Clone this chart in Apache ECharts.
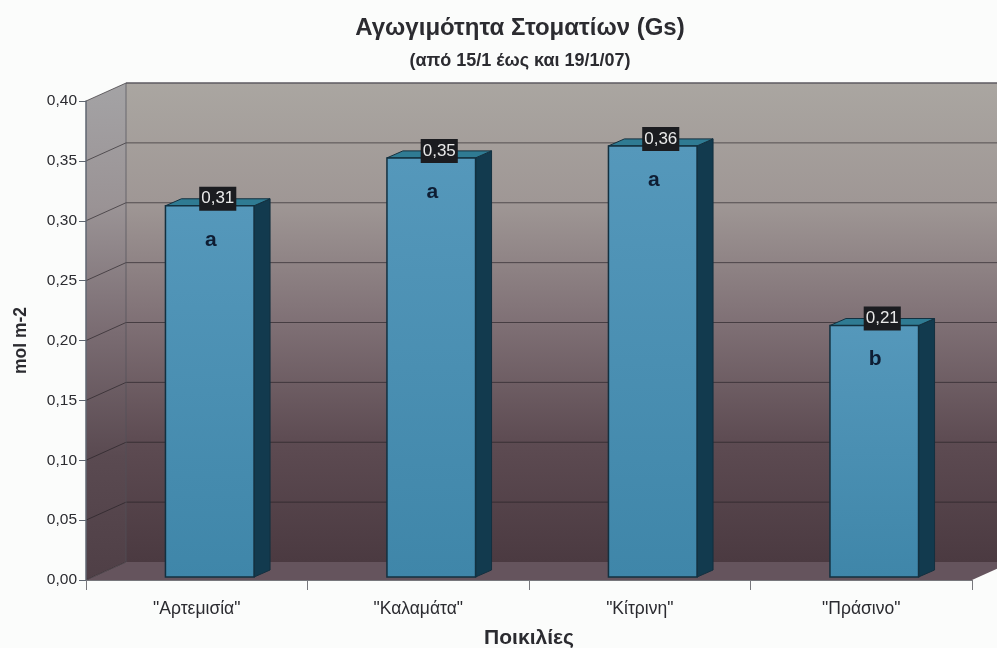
<!DOCTYPE html>
<html>
<head>
<meta charset="utf-8">
<style>html,body{margin:0;padding:0;background:#fbfcfb}#c{width:997px;height:648px}</style>
<script src="https://cdn.jsdelivr.net/npm/echarts@6/dist/echarts.min.js"></script>
</head>
<body>
<div id="c"></div>
<script>
// Stomatal conductance per variety
const categories = ['"Αρτεμισία"', '"Καλαμάτα"', '"Κίτρινη"', '"Πράσινο"'];
const conductance = [0.31, 0.35, 0.36, 0.21];
const groupLetters = ['a', 'a', 'a', 'b'];
const yTicks = [0, 0.05, 0.10, 0.15, 0.20, 0.25, 0.30, 0.35, 0.40];

// Oblique projection of the box: how far the back wall sits from the front plane
const WALL_DX = 40, WALL_DY = -18;
const BAR_DX = 13, BAR_DY = -3, BAR_DEPTH_X = 16, BAR_DEPTH_Y = -7;
const comma = v => v.toFixed(2).replace('.', ',');
const ink = '#2b2b30';

const chart = echarts.init(document.getElementById('c'), null, {renderer: 'canvas'});

function renderBox(params, api) {
  const band = api.size([1, 0])[0];
  const left = api.coord([0, 0])[0] - band / 2;
  const right = api.coord([categories.length - 1, 0])[0] + band / 2;
  const y0 = api.coord([0, 0])[1];
  const yTop = api.coord([0, yTicks[yTicks.length - 1]])[1];
  const wallFill = new echarts.graphic.LinearGradient(0, 0, 0, 1, [
    {offset: 0, color: '#aaa6a1'},
    {offset: 0.25, color: '#9f9795'},
    {offset: 0.5, color: '#7f7075'},
    {offset: 0.75, color: '#5d4b52'},
    {offset: 1, color: '#4b3a41'}
  ]);
  const sideFill = new echarts.graphic.LinearGradient(0, 0, 0, 1, [
    {offset: 0, color: '#a4a3a5'},
    {offset: 0.25, color: '#9a9395'},
    {offset: 0.5, color: '#7a6c72'},
    {offset: 0.75, color: '#5a4a51'},
    {offset: 1, color: '#4f3f46'}
  ]);
  const children = [
    {type: 'polygon', shape: {points: [[left + WALL_DX, yTop + WALL_DY], [right + WALL_DX, yTop + WALL_DY], [right + WALL_DX, y0 + WALL_DY], [left + WALL_DX, y0 + WALL_DY]]}, style: {fill: wallFill}},
    {type: 'polygon', shape: {points: [[left, yTop], [left + WALL_DX, yTop + WALL_DY], [left + WALL_DX, y0 + WALL_DY], [left, y0]]}, style: {fill: sideFill}},
    {type: 'polygon', shape: {points: [[left, y0], [left + WALL_DX, y0 + WALL_DY], [right + WALL_DX, y0 + WALL_DY], [right, y0]]}, style: {fill: '#65545d'}}
  ];
  const line = (x1, y1, x2, y2, stroke, lineWidth) => ({
    type: 'line', shape: {x1, y1, x2, y2}, style: {stroke, lineWidth}
  });
  const gridColor = 'rgba(35,30,35,0.62)';
  yTicks.forEach(t => {
    const y = api.coord([0, t])[1];
    children.push(line(left, y, left + WALL_DX, y + WALL_DY, gridColor, 1));
    if (t > 0) children.push(line(left + WALL_DX, y + WALL_DY, right + WALL_DX, y + WALL_DY, t === 0.4 ? '#5c5a60' : gridColor, t === 0.4 ? 1.5 : 1));
  });
  children.push(line(left + WALL_DX, yTop + WALL_DY, left + WALL_DX, y0 + WALL_DY, 'rgba(80,80,90,0.7)', 1));
  return {type: 'group', children};
}

function renderBar(params, api) {
  const i = api.value(0), v = api.value(1);
  const top = api.coord([i, v]);
  const base = api.coord([i, 0]);
  const w = api.size([1, 0])[0] * 0.4;
  const cx = top[0] + BAR_DX;
  const l = cx - w / 2, r = cx + w / 2;
  const t = top[1] + BAR_DY, b = base[1] + BAR_DY;
  const dx = BAR_DEPTH_X, dy = BAR_DEPTH_Y;
  const edge = '#13303f';
  const face = new echarts.graphic.LinearGradient(0, 0, 0, 1, [
    {offset: 0, color: '#5598bb'},
    {offset: 1, color: '#3f86a9'}
  ]);
  return {
    type: 'group',
    children: [
      {type: 'polygon', shape: {points: [[r, t], [r + dx, t + dy], [r + dx, b + dy], [r, b]]}, style: {fill: '#123a4e', stroke: edge, lineWidth: 1}},
      {type: 'polygon', shape: {points: [[l, t], [l + dx, t + dy], [r + dx, t + dy], [r, t]]}, style: {fill: '#2f7b93', stroke: edge, lineWidth: 1}},
      {type: 'rect', shape: {x: l, y: t, width: w, height: b - t}, style: {fill: face, stroke: edge, lineWidth: 1.5}},
      {type: 'text', z2: 5, style: {
        x: cx + dx / 2, y: t + dy, text: comma(v), align: 'center', verticalAlign: 'middle',
        fill: '#e9e9e9', font: '17px "Liberation Sans"', backgroundColor: '#1b1c20',
        padding: [4, 2, 3, 2]
      }},
      {type: 'text', z2: 5, style: {
        x: cx + 1, y: t + 34, text: groupLetters[i], align: 'center', verticalAlign: 'middle',
        fill: '#0e1d33', font: 'bold 21px "Liberation Sans"'
      }}
    ]
  };
}

chart.setOption({
  animation: false,
  backgroundColor: '#fbfcfb',
  title: [
    {text: 'Αγωγιμότητα Στοματίων (Gs)', left: 515, top: 11, textAlign: 'center',
     textStyle: {fontFamily: 'Liberation Sans', fontWeight: 'bold', fontSize: 24, color: ink}},
    {text: '(από 15/1 έως και 19/1/07)', left: 515, top: 47, textAlign: 'center',
     textStyle: {fontFamily: 'Liberation Sans', fontWeight: 'bold', fontSize: 18, color: ink}}
  ],
  grid: {left: 86, right: 25, top: 101, bottom: 68, containLabel: false, outerBoundsMode: 'none'},
  xAxis: {
    type: 'category', data: categories, z: 10,
    name: 'Ποικιλίες', nameLocation: 'middle', nameGap: 48,
    nameTextStyle: {fontFamily: 'Liberation Sans', fontWeight: 'bold', fontSize: 21, color: ink},
    axisLine: {lineStyle: {color: '#77777c', width: 1}},
    axisTick: {show: true, alignWithLabel: false, length: 10, lineStyle: {color: '#77777c'}},
    axisLabel: {margin: 20, fontFamily: 'Liberation Sans', fontSize: 17.5, color: ink}
  },
  yAxis: {
    type: 'value', min: 0, max: 0.4, interval: 0.05, z: 10,
    name: 'mol m-2', nameLocation: 'middle', nameGap: 56,
    nameTextStyle: {fontFamily: 'Liberation Sans', fontWeight: 'bold', fontSize: 17.5, color: ink},
    axisLine: {show: true, lineStyle: {color: '#5f6670', width: 1.5}},
    axisTick: {show: true, length: 7, lineStyle: {color: '#5f6670'}},
    axisLabel: {margin: 9, formatter: comma, fontFamily: 'Liberation Sans', fontSize: 15.5, color: ink},
    splitLine: {show: false}
  },
  series: [
    {type: 'custom', name: 'box', z: 1, clip: false, silent: true, renderItem: renderBox, data: [[0, 0]], encode: {x: 0, y: 1}},
    {type: 'custom', name: 'Gs', z: 2, clip: false, renderItem: renderBar, data: conductance.map((v, i) => [i, v]), encode: {x: 0, y: 1}}
  ]
});
</script>
</body>
</html>
